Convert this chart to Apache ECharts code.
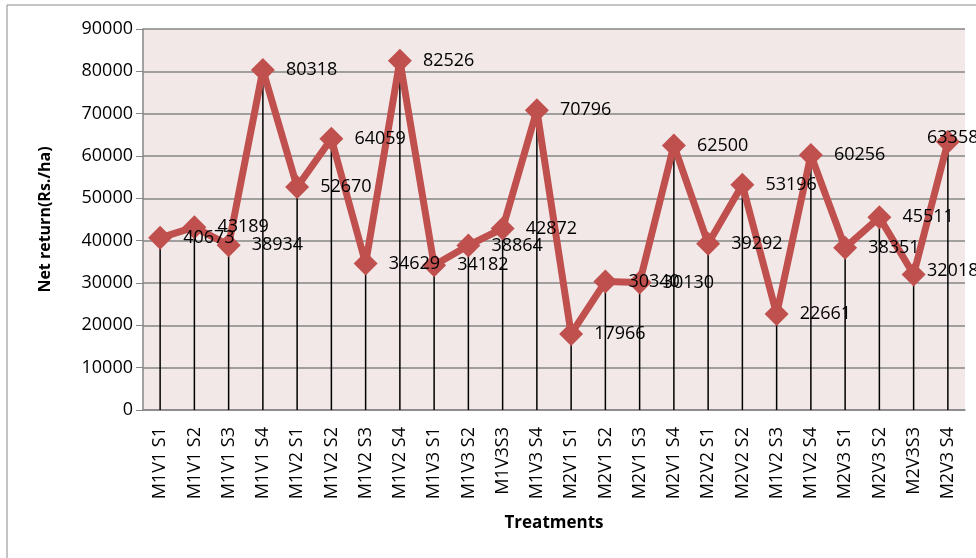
<!DOCTYPE html>
<html>
<head>
<meta charset="utf-8">
<script src="https://cdn.jsdelivr.net/npm/echarts@6/dist/echarts.min.js"></script>
<style>
  html, body { margin: 0; padding: 0; background: #fff; }
  #main { width: 976px; height: 558px; }
</style>
</head>
<body>
<div id="main"></div>
<script>
const treatments = [
  'M1V1 S1', 'M1V1 S2', 'M1V1 S3', 'M1V1 S4', 'M1V2 S1', 'M1V2 S2', 'M1V2 S3', 'M1V2 S4',
  'M1V3 S1', 'M1V3 S2', 'M1V3S3', 'M1V3 S4', 'M2V1 S1', 'M2V1 S2', 'M2V1 S3', 'M2V1 S4',
  'M2V2 S1', 'M2V2 S2', 'M1V2 S3', 'M1V2 S4', 'M2V3 S1', 'M2V3 S2', 'M2V3S3', 'M2V3 S4'
];
const netReturn = [
  40673, 43189, 38934, 80318, 52670, 64059, 34629, 82526,
  34182, 38864, 42872, 70796, 17966, 30340, 30130, 62500,
  39292, 53196, 22661, 60256, 38351, 45511, 32018, 63358
];
const yTicks = { min: 0, max: 90000, interval: 10000 };

const chart = echarts.init(document.getElementById('main'));
const font = '"Open Sans", sans-serif';

chart.setOption({
  animation: false,
  graphic: [{
    type: 'rect',
    shape: { x: 7, y: 5, width: 1000, height: 600 },
    style: { fill: 'none', stroke: '#8a8a8a', lineWidth: 1 },
    z: -10
  }],
  grid: {
    left: 143, top: 29, right: 11, bottom: 148,
    show: true, backgroundColor: '#F2E8E8', borderWidth: 0
  },
  xAxis: {
    type: 'category',
    data: treatments,
    name: 'Treatments',
    nameLocation: 'middle',
    nameGap: 105,
    nameTextStyle: { fontFamily: font, fontWeight: 'bold', fontSize: 17, color: '#000' },
    axisLine: { lineStyle: { color: '#868686', width: 1.5 } },
    axisTick: { show: false },
    axisLabel: { rotate: 90, margin: 17, fontFamily: font, fontSize: 18, color: '#000' }
  },
  yAxis: {
    type: 'value',
    min: yTicks.min, max: yTicks.max, interval: yTicks.interval,
    name: 'Net return(Rs./ha)',
    nameLocation: 'middle',
    nameGap: 90,
    nameTextStyle: { fontFamily: font, fontWeight: 'bold', fontSize: 16, color: '#000' },
    axisLine: { show: true, lineStyle: { color: '#868686', width: 1.5 } },
    axisTick: { show: true, length: 7, lineStyle: { color: '#868686' } },
    axisLabel: { margin: 10, fontFamily: font, fontSize: 18, color: '#000', formatter: v => String(v) },
    splitLine: { lineStyle: { color: '#868686', width: 1.5 } }
  },
  series: [
    {
      // drop lines
      type: 'bar',
      data: netReturn,
      barWidth: 1.5,
      itemStyle: { color: '#000' },
      silent: true,
      z: 1
    },
    {
      type: 'line',
      data: netReturn,
      symbol: 'diamond',
      symbolSize: 24,
      lineStyle: { color: '#C0504D', width: 7 },
      itemStyle: { color: '#C0504D' },
      label: {
        show: true,
        position: 'right',
        distance: 11,
        fontFamily: font,
        fontSize: 18,
        color: '#000'
      },
      // last label is pushed back inside the chart, as Excel does
      labelLayout: p => {
        const r = p.labelRect;
        if (r.x + r.width > 976) return { dx: 927 - r.x, dy: -4 };
        return {};
      },
      z: 2
    }
  ]
});
</script>
</body>
</html>
